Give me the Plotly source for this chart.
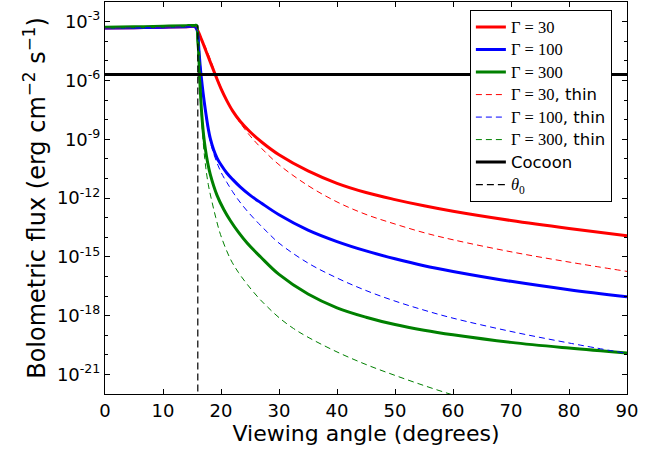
import plotly.graph_objects as go

# Viewing angle (degrees) and bolometric flux (erg cm^-2 s^-1) for each model
theta_red = [0, 5, 10, 14, 15.5, 15.9, 16.7, 17.6, 19.0, 20, 21, 22, 23.3, 25, 27, 30, 35, 40, 45, 50, 55, 60,
             70, 80, 90]
flux_red = [4.7e-4, 4.9e-4, 5.2e-4, 5.5e-4, 5.6e-4, 3.9e-4, 1.1e-4, 2.3e-5, 2.0e-6, 3.8e-7, 9.3e-8, 2.8e-8,
            8.3e-9, 2.4e-9, 7.2e-10, 1.6e-10, 2.4e-11, 5.6e-12, 1.9e-12, 8.3e-13, 4.0e-13, 2.1e-13,
            7.1e-14, 2.8e-14, 1.2e-14]

theta_blue = [0, 5, 10, 14, 15.5, 15.9, 16.2, 16.55, 17.3, 18.15, 19.3, 20, 21, 22, 23.3, 25, 27, 30, 35, 40,
              45, 50, 55, 60, 70, 80, 90]
flux_blue = [4.7e-4, 4.9e-4, 5.2e-4, 5.5e-4, 5.6e-4, 3.5e-4, 3.2e-5, 2.0e-6, 3.2e-8, 1.1e-9, 1.1e-10,
             5.0e-11, 1.9e-11, 8.9e-12, 3.7e-12, 1.4e-12, 5.4e-13, 1.4e-13, 2.3e-14, 6.0e-15, 2.0e-15,
             7.9e-16, 3.5e-16, 1.8e-16, 5.6e-17, 2.1e-17, 9.1e-18]

theta_green = [0, 5, 10, 14, 15.5, 15.8, 16.0, 16.14, 16.3, 16.5, 16.7, 17.0, 17.3, 17.7, 18.15, 19.3, 20.5,
               21.6, 23, 24.5, 26.8, 30, 35, 40, 45, 50, 55, 60, 70, 80, 90]
flux_green = [5.1e-4, 5.4e-4, 5.8e-4, 6.2e-4, 6.4e-4, 6.5e-4, 1.0e-4, 3.2e-5, 2.0e-6, 1.3e-7, 1.6e-8,
              1.6e-9, 3.2e-10, 6.3e-11, 1.6e-11, 1.4e-12, 2.5e-13, 7.1e-14, 1.8e-14, 5.0e-15, 1.0e-15,
              1.26e-16, 1.26e-17, 2.5e-18, 8.3e-19, 3.5e-19, 1.8e-19, 1.05e-19, 4.3e-20, 2.2e-20, 1.23e-20]

theta_red_thin = [0, 5, 10, 14, 15.5, 15.9, 16.7, 17.6, 19.0, 20, 21, 22, 23.3, 25, 27, 30, 35, 40, 45, 50,
                  55, 60, 70, 80, 90]
flux_red_thin = [4.7e-4, 4.9e-4, 5.2e-4, 5.5e-4, 5.6e-4, 4.2e-4, 1.3e-4, 3.2e-5, 2.5e-6, 4.4e-7, 9.5e-8,
                 2.6e-8, 6.8e-9, 1.5e-9, 3.4e-10, 5.0e-11, 4.3e-12, 6.3e-13, 1.45e-13, 4.7e-14, 1.7e-14,
                 7.4e-15, 1.8e-15, 5.4e-16, 1.8e-16]

theta_blue_thin = [0, 5, 10, 14, 15.5, 15.9, 16.3, 16.6, 17.3, 18.3, 19.5, 20.3, 21, 22, 23, 24.5, 26.5, 28,
                   30, 35, 40, 45, 50, 55, 60, 70, 80, 90]
flux_blue_thin = [4.7e-4, 4.9e-4, 5.2e-4, 5.5e-4, 5.6e-4, 3.6e-4, 3.2e-5, 2.0e-6, 2.2e-8, 5.0e-10,
                  4.5e-11, 1.4e-11, 6.3e-12, 2.1e-12, 7.9e-13, 2.2e-13, 5.0e-14, 1.8e-14, 5.0e-15,
                  4.8e-16, 8.3e-17, 1.9e-17, 5.5e-18, 1.9e-18, 7.4e-19, 1.55e-19, 4.0e-20, 1.17e-20]

theta_green_thin = [0, 5, 10, 14, 15.5, 15.8, 16.0, 16.3, 16.7, 17.2, 17.8, 18.45, 19.1, 19.9, 21.6, 23, 24.5,
                    26.5, 28, 30, 32.5, 35, 40, 45, 50, 55, 60, 65]
flux_green_thin = [5.1e-4, 5.4e-4, 5.8e-4, 6.2e-4, 6.4e-4, 6.5e-4, 5.0e-5, 1.0e-6, 6.3e-9, 1.0e-10,
                   5.0e-12, 6.3e-13, 1.0e-13, 1.4e-14, 7.9e-16, 1.6e-16, 4.0e-17, 7.9e-18, 2.8e-18,
                   7.9e-19, 2.2e-19, 7.9e-20, 1.4e-20, 3.2e-21, 8.9e-22, 2.7e-22, 8.9e-23, 3.2e-23]

cocoon_theta = [0, 90]
cocoon_flux = [2.0e-6, 2.0e-6]

theta_0 = 16.0
theta0_flux = [1e-23, 6.5e-4]

y_tick_exponents = [-21, -18, -15, -12, -9, -6, -3]
x_ticks = [0, 10, 20, 30, 40, 50, 60, 70, 80, 90]

SERIF = "Liberation Serif"


def legend_text(txt):
    return f"<span style='font-size:16.5px'>{txt}</span>"


def gamma_label(g, thin=False):
    txt = f"<span style='font-family:{SERIF}'>Γ = {g}</span>"
    return legend_text(txt + (", thin" if thin else ""))


fig = go.Figure()

solid = [
    (theta_red, flux_red, "red", 30),
    (theta_blue, flux_blue, "blue", 100),
    (theta_green, flux_green, "green", 300),
]
for th, fl, col, g in solid:
    fig.add_trace(go.Scatter(x=th, y=fl, mode="lines", name=gamma_label(g),
                             line=dict(color=col, width=3, shape="spline", smoothing=1.0)))

thin = [
    (theta_red_thin, flux_red_thin, "red", 30),
    (theta_blue_thin, flux_blue_thin, "blue", 100),
    (theta_green_thin, flux_green_thin, "green", 300),
]
for th, fl, col, g in thin:
    fig.add_trace(go.Scatter(x=th, y=fl, mode="lines", name=gamma_label(g, True),
                             line=dict(color=col, width=1, dash="6px,4px", shape="spline", smoothing=1.0)))

fig.add_trace(go.Scatter(x=cocoon_theta, y=cocoon_flux, mode="lines", name=legend_text("Cocoon"),
                         line=dict(color="black", width=3)))
fig.add_trace(go.Scatter(x=[theta_0, theta_0], y=theta0_flux, mode="lines",
                         name=legend_text(f"<span style='font-family:{SERIF}'><i>θ</i><sub>0</sub></span>"),
                         line=dict(color="black", width=1.2, dash="7px,4px")))

minor_vals = [10.0 ** e for e in range(-22, -1) if e % 3 != 0]

fig.update_layout(
    width=664, height=450,
    margin=dict(l=105, r=37, t=2, b=56),
    paper_bgcolor="white", plot_bgcolor="white",
    font=dict(family="DejaVu Sans", size=18, color="black"),
    showlegend=True,
    legend=dict(x=0.699, y=0.98, xanchor="left", yanchor="top",
                bgcolor="white", bordercolor="black", borderwidth=1,
                font=dict(size=15), tracegroupgap=0, itemwidth=30),
    xaxis=dict(
        range=[0, 90], tickmode="array", tickvals=x_ticks,
        ticks="inside", ticklen=5, tickcolor="black", mirror="allticks",
        showline=True, linecolor="black", linewidth=1, showgrid=False, zeroline=False,
        title=dict(text="Viewing angle (degrees)", font=dict(size=22), standoff=4),
        tickfont=dict(size=18),
    ),
    yaxis=dict(
        type="log", range=[-22, -2], tickmode="array",
        tickvals=[10.0 ** e for e in y_tick_exponents],
        ticktext=[f"10<sup>{e}</sup>" for e in y_tick_exponents],
        ticks="inside", ticklen=5, tickcolor="black", mirror="allticks",
        minor=dict(tickmode="array", tickvals=minor_vals, ticks="inside", ticklen=3, tickcolor="black"),
        showline=True, linecolor="black", linewidth=1, showgrid=False, zeroline=False,
        title=dict(text="Bolometric flux (erg cm<sup>−2</sup> s<sup>−1</sup>)", font=dict(size=24),
                   standoff=4),
        tickfont=dict(size=18),
    ),
)

fig.write_html("out.html")
